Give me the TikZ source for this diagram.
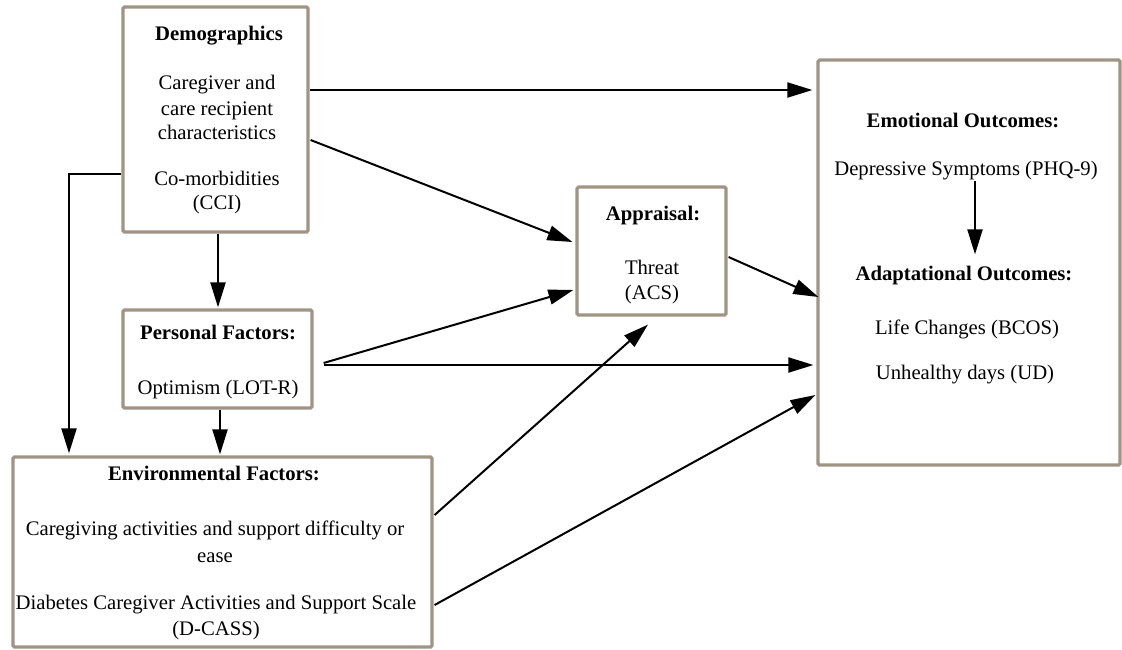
\documentclass[tikz,border=0pt]{standalone}
\usepackage{fontspec}
\setmainfont{Liberation Serif}
\usetikzlibrary{arrows.meta,calc}
\definecolor{boxline}{HTML}{A09484}
\begin{document}
\begin{tikzpicture}[x=1pt,y=-1pt,
  box/.style={draw=boxline, line width=3.2pt, fill=white, rounded corners=1.5pt, inner sep=0pt},
  txt/.style={anchor=base, inner sep=0pt, font=\fontsize{20.7}{25}\selectfont},
  btxt/.style={txt, font=\fontsize{20.7}{25}\selectfont\bfseries},
  arr/.style={-{Triangle[length=25pt,width=15pt]}, line width=2pt, black}]
\useasboundingbox[fill=white] (0,0) rectangle (1122,649);
% boxes
\node[box, minimum width=185pt, minimum height=225pt] (demo) at (215.5,119.5) {};
\node[box, minimum width=189pt, minimum height=98pt] (pers) at (217.5,359) {};
\node[box, minimum width=419pt, minimum height=190pt] (env) at (222.5,552) {};
\node[box, minimum width=149pt, minimum height=128pt] (app) at (651.5,251) {};
\node[box, minimum width=302pt, minimum height=405pt] (out) at (969,262.5) {};
% texts
\node[btxt] (t1) at (219,40) {Demographics};
\node[txt] (t2) at (217,89) {Caregiver and};
\node[txt] (t3) at (217,115) {care recipient};
\node[txt] (t4) at (217,139) {characteristics};
\node[txt] (t5) at (217,185) {Co-morbidities};
\node[txt] (t6) at (217,209) {(CCI)};
\node[btxt] (t7) at (218,339) {Personal Factors:};
\node[txt] (t8) at (218,394) {Optimism (LOT-R)};
\node[btxt] (t9) at (214,480) {Environmental Factors:};
\node[txt] (t10) at (215,535) {Caregiving activities and support difficulty or};
\node[txt] (t11) at (215,562) {ease};
\node[txt] (t12) at (216,609) {Diabetes Caregiver Activities and Support Scale};
\node[txt] (t13) at (216,635) {(D-CASS)};
\node[btxt] (t14) at (653,220) {Appraisal:};
\node[txt] (t15) at (652,274) {Threat};
\node[txt] (t16) at (652,299) {(ACS)};
\node[btxt] (t17) at (963,127) {Emotional Outcomes:};
\node[txt] (t18) at (966,175) {Depressive Symptoms (PHQ-9)};
\node[btxt] (t19) at (964,280) {Adaptational Outcomes:};
\node[txt] (t20) at (967,334) {Life Changes (BCOS)};
\node[txt] (t21) at (965,379) {Unhealthy days (UD)};
% connectors
\draw[arr] ($(demo.east)+(0,-29.5)$) -- ($(out.west)+(-4,-172.5)$);
\draw[arr] ($(demo.east)+(1,20.5)$) -- ($(app.west)+(-3,-9)$);
\draw[arr] ($(demo.south)+(2.5,0)$) -- ($(pers.north)+(0.5,-1)$);
\draw[arr] ($(demo.west)+(0,54.5)$) -| ($(env.north)+(-153.5,-2)$);
\draw[arr] ($(pers.south)+(2.5,0)$) -- ($(env.north)+(-2.5,-1)$);
\draw[arr] ($(pers.east)+(10,4)$) -- ($(app.west)+(-2,39)$);
\draw[arr] ($(pers.east)+(10,6)$) -- ($(out.west)+(-3,102.5)$);
\draw[arr] ($(env.east)+(1,-37)$) -- ($(app.south)+(-3.5,8)$);
\draw[arr] ($(env.east)+(1,53)$) -- ($(out.west)+(-1,132.5)$);
\draw[arr] ($(app.east)+(1,6)$) -- ($(out.west)+(2,34.5)$);
\draw[arr] ($(out.north)+(6,123)$) -- ($(out.north)+(6,196)$);
\end{tikzpicture}
\end{document}
